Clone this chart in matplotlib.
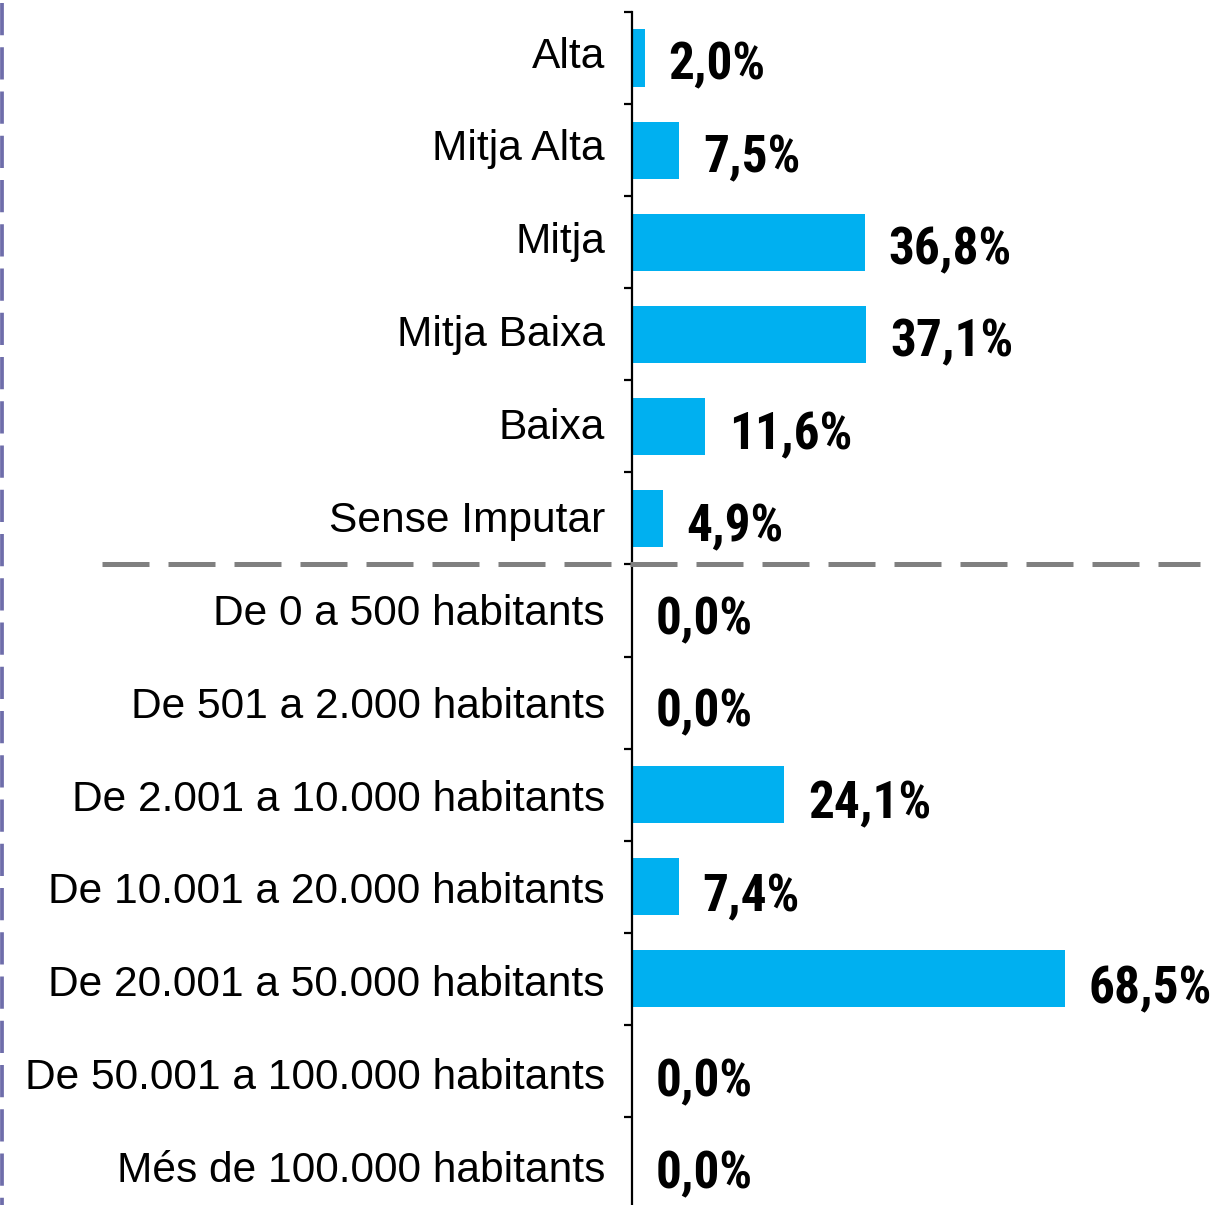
import matplotlib
matplotlib.use("Agg")
import matplotlib.pyplot as plt
from matplotlib.lines import Line2D
from matplotlib.transforms import blended_transform_factory, ScaledTranslation

categories = [
    "Alta", "Mitja Alta", "Mitja", "Mitja Baixa", "Baixa", "Sense Imputar",
    "De 0 a 500 habitants", "De 501 a 2.000 habitants",
    "De 2.001 a 10.000 habitants", "De 10.001 a 20.000 habitants",
    "De 20.001 a 50.000 habitants", "De 50.001 a 100.000 habitants",
    "Més de 100.000 habitants",
]
values = [2.0, 7.5, 36.8, 37.1, 11.6, 4.9, 0.0, 0.0, 24.1, 7.4, 68.5, 0.0, 0.0]
value_labels = [f"{v:.1f}".replace(".", ",") + "%" for v in values]

W, H = 1232, 1205
DPI = 100
fig = plt.figure(figsize=(W / DPI, H / DPI), dpi=DPI)
top_px = 12
step_px = 92.08
bottom_px = top_px + step_px * len(categories)
left_px = 632
ax = fig.add_axes([left_px / W, 1 - bottom_px / H, (W - left_px) / W, (bottom_px - top_px) / H])

n = len(categories)
ypos = list(range(n))
ax.barh(ypos, values, height=0.62, color="#00B0F0", zorder=2)
ax.set_ylim(n - 0.5, -0.5)
ax.set_xlim(0, (W - left_px) / 6.32)

ax.set_yticks(ypos)
ax.set_yticklabels(categories, fontsize=30.6, family="Liberation Sans")
ax.set_yticks([i - 0.5 for i in range(n + 1)], minor=True)
ax.tick_params(axis="y", which="major", length=0, pad=19.5)
ax.tick_params(axis="y", which="minor", length=6, width=1.6, direction="out")
ax.set_xticks([])
for s in ["top", "right", "bottom"]:
    ax.spines[s].set_visible(False)
ax.spines["left"].set_linewidth(1.6)

# small vertical drift of category labels as in the reference rendering
for i, lab in enumerate(ax.get_yticklabels()):
    dy_px = -6.0 + 9.5 * i / (n - 1)
    lab.set_transform(lab.get_transform() + ScaledTranslation(0, -dy_px / DPI, fig.dpi_scale_trans))

for i, (y, v, lab) in enumerate(zip(ypos, values, value_labels)):
    dy_px = 2.0 + 4.0 * i / (n - 1)
    ax.annotate(lab, xy=(v, y), xytext=(17.0, -dy_px * 0.72), textcoords="offset points",
                ha="left", va="center_baseline", fontsize=37, fontweight="bold",
                family=["Roboto Condensed", "DejaVu Sans"], color="black")

# separator dashed line
tr = blended_transform_factory(fig.transFigure, ax.transData)
ax.plot([102 / W, 1200 / W], [5.5, 5.5], transform=tr, color="#808080",
        lw=3.6, linestyle=(0, (9.4, 3.8)), clip_on=False, zorder=3,
        solid_capstyle="butt", dash_capstyle="butt")

# left purple dashed border
fig.add_artist(Line2D([1.8 / W, 1.8 / W], [1, 0], transform=fig.transFigure,
                      color="#6E6DAA", lw=2.7, linestyle=(11, (8.6, 3.2)),
                      dash_capstyle="butt"))

fig.savefig("out.png", dpi=DPI)
